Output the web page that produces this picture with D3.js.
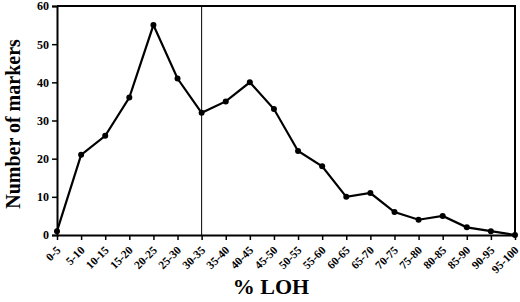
<!DOCTYPE html>
<html lang="en">
<head>
  <meta charset="UTF-8" />
  <title>% LOH distribution</title>
  <style>
    body { margin: 0; background: #fff; }
    svg { display: block; }
    text { font-family: "Liberation Serif", "DejaVu Serif", serif; font-weight: bold; fill: #000; }
    .tick line { stroke: #000; stroke-width: 1.5px; }
  </style>
</head>
<body>
  <svg width="520" height="302"></svg>
  <script src="https://d3js.org/d3.v7.min.js"></script>
  <script>
    const categories = ["0-5", "5-10", "10-15", "15-20", "20-25", "25-30", "30-35", "35-40", "40-45", "45-50",
      "50-55", "55-60", "60-65", "65-70", "70-75", "75-80", "80-85", "85-90", "90-95", "95-100"];
    const markers = [1, 21, 26, 36, 55, 41, 32, 35, 40, 33, 22, 18, 10, 11, 6, 4, 5, 2, 1, 0];
    const yTicks = [0, 10, 20, 30, 40, 50, 60];

    const plotL = 57, plotR = 515, plotT = 6, plotB = 235;
    const svg = d3.select("svg");

    const x = d3.scalePoint().domain(categories).range([plotL, plotR]);
    const y = d3.scaleLinear().domain([0, 60]).range([plotB, plotT]);

    // frame: top and right borders
    svg.append("path")
      .attr("d", `M${plotL},${plotT}H${plotR}V${plotB}`)
      .attr("fill", "none").attr("stroke", "#000").attr("stroke-width", 2);

    // vertical marker line at 30-35
    svg.append("line")
      .attr("x1", x("30-35")).attr("x2", x("30-35"))
      .attr("y1", plotT).attr("y2", plotB)
      .attr("stroke", "#000").attr("stroke-width", 1);

    const yAxis = svg.append("g")
      .attr("transform", `translate(${plotL},0)`)
      .call(d3.axisLeft(y).tickValues(yTicks).tickSize(5).tickPadding(3));
    yAxis.select(".domain").attr("stroke", "#000").attr("stroke-width", 2);
    yAxis.selectAll("text").style("font-size", "12px");

    const xAxis = svg.append("g")
      .attr("transform", `translate(0,${plotB})`)
      .call(d3.axisBottom(x).tickSize(5).tickSizeOuter(0));
    xAxis.select(".domain").attr("stroke", "#000").attr("stroke-width", 2);
    xAxis.selectAll("text")
      .style("font-size", "11.5px")
      .attr("text-anchor", "end")
      .attr("dy", "0.35em")
      .attr("transform", "translate(1,13) rotate(-45)")
      .attr("x", 0).attr("y", 0);

    const line = d3.line()
      .x((d, i) => x(categories[i]))
      .y(d => y(d));

    svg.append("path")
      .datum(markers)
      .attr("d", line)
      .attr("fill", "none")
      .attr("stroke", "#000")
      .attr("stroke-width", 2.2);

    svg.append("g")
      .selectAll("circle")
      .data(markers)
      .join("circle")
      .attr("cx", (d, i) => x(categories[i]))
      .attr("cy", d => y(d))
      .attr("r", 3)
      .attr("fill", "#000");

    svg.append("text")
      .attr("x", 271).attr("y", 294)
      .attr("text-anchor", "middle")
      .style("font-size", "22px")
      .text("% LOH");

    svg.append("text")
      .attr("transform", `translate(20,124) rotate(-90)`)
      .attr("text-anchor", "middle")
      .style("font-size", "20px")
      .text("Number of markers");
  </script>
</body>
</html>
